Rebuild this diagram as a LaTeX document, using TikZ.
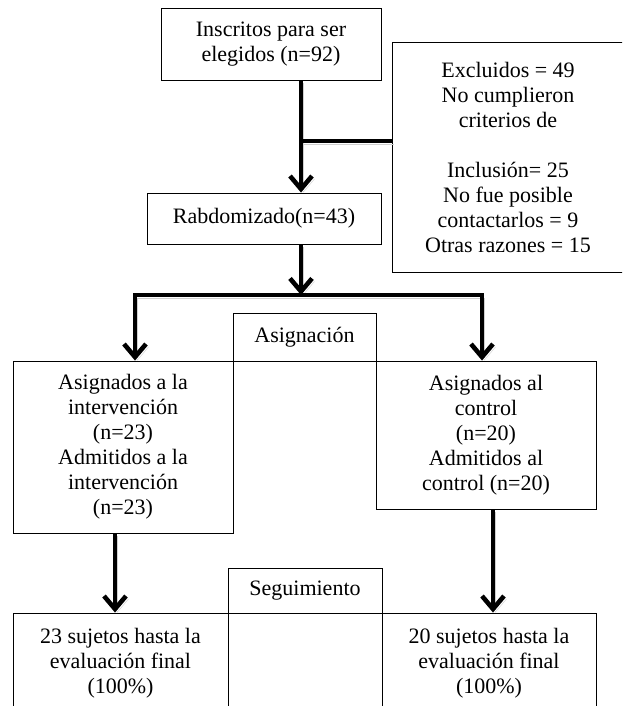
\documentclass[tikz,border=0pt]{standalone}
\usepackage{fontspec}
\setmainfont{Liberation Serif}
\usepackage{tikz}
\usetikzlibrary{arrows.meta, calc}
\definecolor{ink}{HTML}{000000}
\definecolor{shade}{HTML}{CFCFCF}
\newcommand{\boxfont}{\fontsize{22}{25}\selectfont}
\tikzset{
  box/.style   = {rectangle, draw=ink, line width=0.9pt, inner sep=0pt,
                  align=center, font=\boxfont},
  link/.style  = {line width=4.6pt, draw=ink,
                  preaction={draw=shade, transform canvas={shift={(2.5pt,-3pt)}}}},
  flow/.style  = {link, -{Straight Barb[length=13pt,width=22pt]}},
  split/.style = {link, {Straight Barb[length=13pt,width=22pt]}-{Straight Barb[length=13pt,width=22pt]}},
}
\begin{document}
\begin{tikzpicture}[x=1pt, y=-1pt]

  \useasboundingbox (0,0) rectangle (622,706);
  \clip (0,0) rectangle (622,706);

  \node[box, minimum width=220pt, minimum height=72pt]  (insc) at (271,44)
        {Inscritos para ser\\elegidos (n=92)};
  \node[box, minimum width=232pt, minimum height=230pt] (excl) at (508,157)
        {Excluidos = 49\\No cumplieron\\criterios de\\[25pt]Inclusión= 25\\No fue posible\\contactarlos = 9\\Otras razones = 15};
  \node[box, minimum width=234pt, minimum height=51pt]  (rab)  at (264,218.5)
        {Rabdomizado(n=43)};

  \node[box, minimum width=143pt, minimum height=48pt]  (asig) at (304.5,337) {Asignación};
  \node[box, minimum width=220pt, minimum height=172pt] (intv) at (123,447)
        {Asignados a la\\intervención\\(n=23)\\Admitidos a la\\intervención\\(n=23)};
  \node[box, minimum width=220pt, minimum height=148pt] (ctrl) at (486,435)
        {Asignados al\\control\\(n=20)\\Admitidos al\\control (n=20)};

  \node[box, minimum width=154pt, minimum height=45pt]  (segu) at (305,590.5) {Seguimiento};
  \node[box, minimum width=215pt, minimum height=100pt] (finl) at (120.5,663)
        {23 sujetos hasta la\\evaluación final\\(100\%)};
  \node[box, minimum width=214pt, minimum height=100pt] (finr) at (489,663)
        {20 sujetos hasta la\\evaluación final\\(100\%)};

  \coordinate (spine) at (301,0);
  \coordinate (jn)    at (301,141);
  \coordinate (barl)  at (135,295);
  \coordinate (barr)  at (482,295);

  \draw[flow]  (spine |- insc.south) -- (spine |- rab.north);
  \draw[link]  (jn) -- (jn -| excl.west);
  \draw[flow]  (spine |- rab.south) -- (spine |- barl);
  \draw[split] (barl |- intv.north) -- (barl) -- (barr) -- (barr |- ctrl.north);

  \draw[flow]  ([xshift=-8pt]intv.south) -- ([xshift=-8pt]intv.south |- finl.north);
  \draw[flow]  ([xshift=7pt]ctrl.south) -- ([xshift=7pt]ctrl.south |- finr.north);

\end{tikzpicture}
\end{document}
